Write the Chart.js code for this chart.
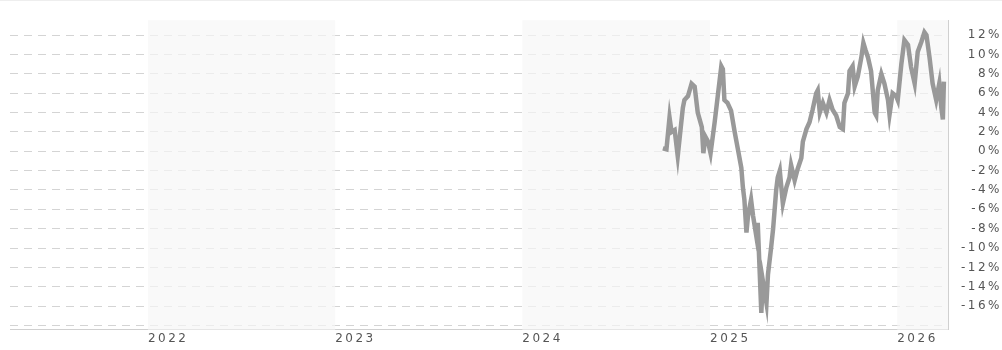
<!DOCTYPE html>
<html>
<head>
<meta charset="utf-8">
<script src="https://cdn.jsdelivr.net/npm/chart.js@4/dist/chart.umd.min.js"></script>
<style>
  html, body { margin: 0; padding: 0; background: #fff; }
  #wrap { position: relative; width: 1002px; height: 350px; }
</style>
</head>
<body>
<div id="wrap"><canvas id="perfChart"></canvas></div>
<script>
// dates of the readings and the cumulative performance in %
var dates = [
    '2024-10-01', '2024-10-08', '2024-10-14', '2024-10-18', '2024-10-24', '2024-10-30',
    '2024-11-05', '2024-11-09', '2024-11-12', '2024-11-19', '2024-11-26', '2024-12-02',
    '2024-12-08', '2024-12-16', '2024-12-19', '2024-12-23', '2024-12-28', '2025-01-02',
    '2025-01-10', '2025-01-16', '2025-01-23', '2025-01-26', '2025-01-29', '2025-02-04',
    '2025-02-11', '2025-02-18', '2025-02-24', '2025-03-03', '2025-03-06', '2025-03-09',
    '2025-03-13', '2025-03-16', '2025-03-22', '2025-03-26', '2025-04-01', '2025-04-04',
    '2025-04-08', '2025-04-11', '2025-04-14', '2025-04-21', '2025-04-24', '2025-04-30',
    '2025-05-04', '2025-05-10', '2025-05-13', '2025-05-17', '2025-05-23', '2025-05-30',
    '2025-06-05', '2025-06-08', '2025-06-15', '2025-06-21', '2025-06-28', '2025-07-01',
    '2025-07-08', '2025-07-14', '2025-07-20', '2025-07-27', '2025-07-30', '2025-08-03',
    '2025-08-09', '2025-08-16', '2025-08-22', '2025-08-28', '2025-09-04', '2025-09-11',
    '2025-09-17', '2025-09-20', '2025-09-27', '2025-09-30', '2025-10-06', '2025-10-10',
    '2025-10-16', '2025-10-23', '2025-10-27', '2025-10-31', '2025-11-05', '2025-11-11',
    '2025-11-18', '2025-11-21', '2025-11-24', '2025-12-01', '2025-12-07', '2025-12-14',
    '2025-12-17', '2025-12-23', '2025-12-30', '2026-01-02', '2026-01-09', '2026-01-15',
    '2026-01-22', '2026-01-28', '2026-02-04', '2026-02-10', '2026-02-17', '2026-02-23',
    '2026-02-27', '2026-03-05', '2026-03-11', '2026-03-18', '2026-03-24', '2026-03-28',
    '2026-03-31', '2026-04-02'
];
var values = [
    0.3, 0.2, 3.5, 2.0, 2.2, -0.5,
    2.5, 4.5, 5.3, 5.7, 7.0, 6.7,
    4.0, 2.5, -0.2, 1.5, 1.0, -0.2,
    3.0, 5.7, 8.8, 8.5, 5.3, 5.0,
    4.2, 2.0, 0.3, -1.7, -3.7, -5.0,
    -8.4, -6.7, -5.0, -6.7, -8.7, -7.4,
    -12.7, -16.7, -13.4, -15.7, -12.7, -10.0,
    -8.0, -4.0, -2.7, -2.0, -5.4, -3.7,
    -2.7, -1.4, -3.0, -1.8, -0.7, 1.0,
    2.3, 3.0, 4.3, 6.0, 6.3, 4.0,
    5.0, 4.0, 5.3, 4.3, 3.7, 2.5,
    2.3, 5.0, 6.0, 8.3, 8.8, 6.7,
    7.7, 9.7, 11.2, 10.5, 9.7, 8.3,
    4.0, 3.7, 6.3, 8.0, 7.0, 5.3,
    3.8, 6.0, 5.7, 5.3, 9.0, 11.5,
    11.0, 8.7, 7.0, 10.3, 11.3, 12.3,
    12.0, 9.7, 7.0, 5.3, 7.0, 4.5,
    3.3, 7.2
];
var tickYears = [2022, 2023, 2024, 2025, 2026];
var shadedYears = [2022, 2024, 2026];
var yTicks = [-18, -16, -14, -12, -10, -8, -6, -4, -2, 0, 2, 4, 6, 8, 10, 12];
var xStart = '2021-04-07';
var xEnd = '2026-04-10';

function toTime(s) {
    return Date.parse(s + 'T00:00:00Z');
}
function yearStart(y) {
    return Date.UTC(y, 0, 1);
}

var points = dates.map(function (d, i) {
    return { x: toTime(d), y: values[i] };
});

var SPACING = '2.5px';

// alternate year bands, drawn over the grid so the dashes fade inside them
var yearBands = {
    id: 'yearBands',
    beforeDatasetsDraw: function (chart) {
        var ctx = chart.ctx, area = chart.chartArea, xs = chart.scales.x;
        ctx.save();
        ctx.fillStyle = 'rgba(246,246,246,0.7)';
        shadedYears.forEach(function (y) {
            var l = Math.max(xs.getPixelForValue(yearStart(y)), area.left);
            var r = Math.min(xs.getPixelForValue(yearStart(y + 1)), area.right);
            if (r > l) ctx.fillRect(l, area.top, r - l, area.bottom - area.top);
        });
        ctx.restore();
    }
};

// letter spaced labels like the original, plus the faint top rule
var spacedText = {
    id: 'spacedText',
    beforeUpdate: function (chart) { chart.ctx.letterSpacing = SPACING; },
    beforeDraw: function (chart) { chart.ctx.letterSpacing = SPACING; },
    afterDraw: function (chart) {
        var ctx = chart.ctx;
        ctx.save();
        ctx.strokeStyle = '#eeeeee';
        ctx.lineWidth = 1;
        ctx.beginPath();
        ctx.moveTo(0, 0.5);
        ctx.lineTo(chart.width, 0.5);
        ctx.stroke();
        ctx.restore();
    }
};

var ctx = document.getElementById('perfChart').getContext('2d');
var myChart = new Chart(ctx, {
    type: 'line',
    data: {
        datasets: [{
            data: points,
            borderColor: '#999999',
            borderWidth: 4.5,
            pointRadius: 0,
            pointHoverRadius: 0,
            fill: false,
            tension: 0
        }]
    },
    plugins: [yearBands, spacedText],
    options: {
        responsive: true,
        maintainAspectRatio: false,
        animation: false,
        events: [],
        layout: { padding: { left: 10, top: 13, right: 0, bottom: 0 } },
        plugins: {
            legend: { display: false },
            tooltip: { enabled: false }
        },
        scales: {
            x: {
                type: 'linear',
                min: toTime(xStart),
                max: toTime(xEnd),
                afterBuildTicks: function (scale) {
                    scale.ticks = tickYears.map(function (y) { return { value: yearStart(y) }; });
                },
                afterFit: function (scale) { scale.height = 17; },
                grid: { display: false, drawTicks: false },
                border: { display: true, color: '#d0d0d0', width: 1 },
                ticks: {
                    autoSkip: false,
                    maxRotation: 0,
                    align: 'start',
                    padding: 2,
                    color: '#555555',
                    font: { family: 'DejaVu Sans', size: 12 },
                    callback: function (v) { return String(new Date(v).getUTCFullYear()); }
                }
            },
            y: {
                position: 'right',
                min: -18.45,
                max: 13.55,
                afterBuildTicks: function (scale) {
                    scale.ticks = yTicks.map(function (v) { return { value: v }; });
                },
                afterFit: function (scale) { scale.width = 54; },
                grid: {
                    color: '#d4d4d4',
                    lineWidth: 1,
                    drawTicks: false
                },
                border: { display: true, color: '#d0d0d0', width: 1, dash: [8, 6] },
                ticks: {
                    autoSkip: false,
                    crossAlign: 'far',
                    padding: 13,
                    color: '#555555',
                    font: { family: 'DejaVu Sans', size: 12 },
                    callback: function (v) { return v === -18 ? '' : v + '%'; }
                }
            }
        }
    }
});
</script>
</body>
</html>
